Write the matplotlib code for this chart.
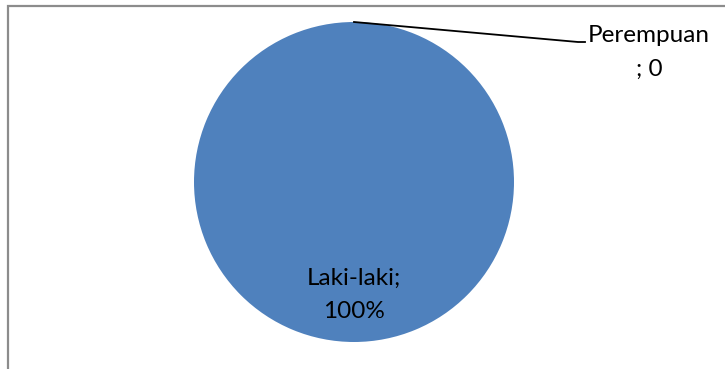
import numpy as np
import matplotlib.pyplot as plt
from matplotlib.patches import Rectangle

# jenis kelamin responden
labels = ["Laki-laki", "Perempuan"]
jumlah = [100, 0]
baris_label = [["Laki-laki;", "100%"], ["Perempuan", "; 0"]]
warna = ["#4F81BD", "#C0504D"]

plt.rcParams['font.family'] = ['Lato', 'DejaVu Sans']

W, H = 725, 369
fig = plt.figure(figsize=(W / 100, H / 100), dpi=100)
ax = fig.add_axes([0, 0, 1, 1])

# bingkai area grafik
ax.add_patch(Rectangle((8, -20), W + 20, H - 6 + 20, fill=False,
                       edgecolor="#8c8c8c", linewidth=1.6))

cx, cy, r = 354, H - 182, 160
wedges, _ = ax.pie(jumlah, colors=warna, startangle=90, counterclock=False,
                   center=(cx, cy), radius=r, frame=True)
ax.set_xlim(0, W)
ax.set_ylim(0, H)
ax.set_aspect('equal')
ax.axis('off')

fs = 17.5
gap = 33

# label di dalam irisan Laki-laki
for i, s in enumerate(baris_label[0]):
    ax.text(cx, H - 278 - i * gap, s, ha='center', va='center',
            fontsize=fs, color='black')

# label Perempuan dengan garis penunjuk
ang = np.deg2rad((wedges[1].theta1 + wedges[1].theta2) / 2)
px, py = cx + r * np.cos(ang), cy + r * np.sin(ang)
ax.plot([px, 578, 585], [py, H - 42, H - 42], color='black', lw=1.3)
for i, s in enumerate(baris_label[1]):
    ax.text(649, H - 36 - i * gap, s, ha='center', va='center',
            fontsize=fs, color='black')

fig.savefig("out.png", dpi=100)
